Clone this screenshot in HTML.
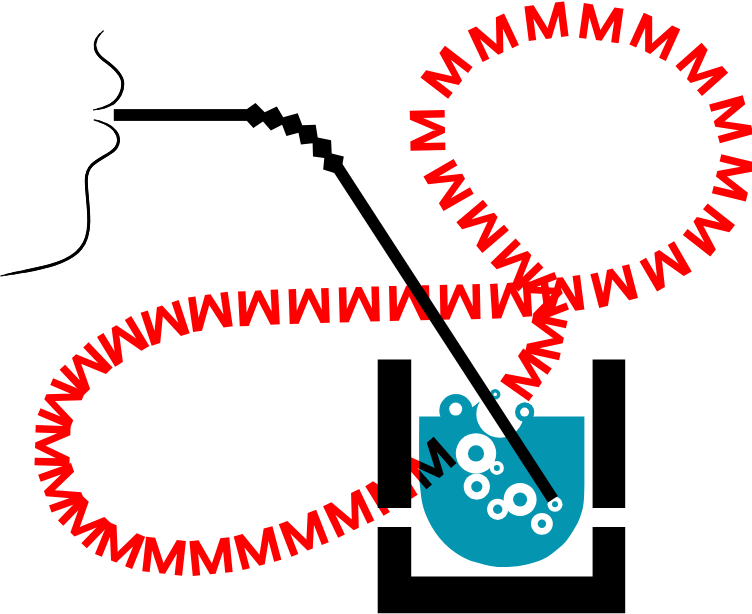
<!DOCTYPE html>
<html lang="en">
<head>
<meta charset="utf-8">
<title>Humming through a straw into water</title>
<style>
html,body{margin:0;padding:0;background:#fff;}
body{width:752px;height:614px;overflow:hidden;}
svg{display:block;}
.hum{font-family:"Liberation Sans",sans-serif;fill:#ff0000;stroke:#ff0000;stroke-width:2.4px;stroke-linejoin:miter;mix-blend-mode:multiply;}
</style>
</head>
<body>
<svg width="752" height="614" viewBox="0 0 752 614">
<rect width="752" height="614" fill="#fff"/>
<g fill="none" stroke="#000" stroke-linecap="round">
<path d="M103.2,31 C97,36 94,42 95.3,48 C96.5,54 100,57 104,60 C114,67 123,75 122.8,84 C122.6,92 119,98 114,102.5 C108,107 100,109 93.6,109.8" pathLength="100" stroke-width="1.3"/>
<path d="M103.2,31 C97,36 94,42 95.3,48 C96.5,54 100,57 104,60 C114,67 123,75 122.8,84 C122.6,92 119,98 114,102.5 C108,107 100,109 93.6,109.8" pathLength="100" stroke-width="1.9" stroke-dasharray="92 200" stroke-dashoffset="-4"/>
<path d="M103.2,31 C97,36 94,42 95.3,48 C96.5,54 100,57 104,60 C114,67 123,75 122.8,84 C122.6,92 119,98 114,102.5 C108,107 100,109 93.6,109.8" pathLength="100" stroke-width="2.5" stroke-dasharray="80 200" stroke-dashoffset="-10"/>
<path d="M103.2,31 C97,36 94,42 95.3,48 C96.5,54 100,57 104,60 C114,67 123,75 122.8,84 C122.6,92 119,98 114,102.5 C108,107 100,109 93.6,109.8" pathLength="100" stroke-width="3" stroke-dasharray="64 200" stroke-dashoffset="-18"/>
<path d="M94.3,120 C101,121.5 107,124 111,127 C116,131 119,136 118.5,141 C118,146 115,150 110,153 C103,157.5 96,161 92,165 C87,170 86,175 86.3,182 C86.7,195 89,208 88.8,222 C88.5,234 86,242 81,248 C75,256 67,260 55,264 C40,269 20,272 1,275.8" pathLength="100" stroke-width="1.3"/>
<path d="M94.3,120 C101,121.5 107,124 111,127 C116,131 119,136 118.5,141 C118,146 115,150 110,153 C103,157.5 96,161 92,165 C87,170 86,175 86.3,182 C86.7,195 89,208 88.8,222 C88.5,234 86,242 81,248 C75,256 67,260 55,264 C40,269 20,272 1,275.8" pathLength="100" stroke-width="1.9" stroke-dasharray="96 200" stroke-dashoffset="-2"/>
<path d="M94.3,120 C101,121.5 107,124 111,127 C116,131 119,136 118.5,141 C118,146 115,150 110,153 C103,157.5 96,161 92,165 C87,170 86,175 86.3,182 C86.7,195 89,208 88.8,222 C88.5,234 86,242 81,248 C75,256 67,260 55,264 C40,269 20,272 1,275.8" pathLength="100" stroke-width="2.5" stroke-dasharray="90 200" stroke-dashoffset="-5"/>
<path d="M94.3,120 C101,121.5 107,124 111,127 C116,131 119,136 118.5,141 C118,146 115,150 110,153 C103,157.5 96,161 92,165 C87,170 86,175 86.3,182 C86.7,195 89,208 88.8,222 C88.5,234 86,242 81,248 C75,256 67,260 55,264 C40,269 20,272 1,275.8" pathLength="100" stroke-width="3" stroke-dasharray="80 200" stroke-dashoffset="-10"/>
</g>
<g fill="#000">
<rect x="377.7" y="359.5" width="33.5" height="148.5"/>
<rect x="592.6" y="359.5" width="32.6" height="148.5"/>
<path d="M377.7,527 H411.2 V576.5 H592.6 V527 H625.2 V613.3 H377.7 Z"/>
</g>
<g fill="#0496b1">
<path d="M584.4,416.4 C584.4,425.3 584.4,457.7 584.4,470.0 C584.4,482.3 584.5,484.0 584.3,490.0 C584.1,496.0 584.0,501.1 583.2,505.8 C582.4,510.5 581.1,514.5 579.6,518.4 C578.1,522.3 576.3,525.5 574.2,529.1 C572.1,532.7 569.7,536.6 567.0,539.9 C564.3,543.2 561.4,546.0 558.1,548.8 C554.8,551.6 551.2,554.6 547.3,556.9 C543.4,559.1 539.3,560.8 534.8,562.3 C530.3,563.8 525.6,565.0 520.5,565.8 C515.4,566.6 509.1,567.0 504.3,567.1 C499.6,567.2 495.7,566.7 492.0,566.2 C488.3,565.7 486.1,565.2 482.0,564.1 C477.9,563.0 472.2,561.6 467.7,559.6 C463.2,557.6 459.1,555.1 455.2,552.4 C451.3,549.7 447.7,546.8 444.4,543.5 C441.1,540.2 438.2,536.6 435.5,532.7 C432.8,528.8 430.4,524.7 428.3,520.2 C426.2,515.7 424.2,511.2 422.9,505.8 C421.5,500.4 420.8,493.9 420.2,487.9 C419.6,481.9 419.4,481.9 419.2,470.0 C419.0,458.1 419.2,425.3 419.2,416.4 Z"/>
<circle cx="456" cy="410.7" r="16.7"/>
<circle cx="495.2" cy="394.4" r="5.2"/>
<circle cx="524.6" cy="412.1" r="9.6"/>
</g>
<path d="M464,417 L470.5,408.6 Q475,405.6 479.6,401.6 L484,417 Z" fill="#0496b1"/>
<circle cx="500" cy="414" r="23.7" fill="#fff"/>
<circle cx="495.2" cy="394.4" r="5.2" fill="#0496b1"/>
<circle cx="524.6" cy="412.1" r="9.6" fill="#0496b1"/>
<circle cx="455.7" cy="409.1" r="6.5" fill="#fff"/>
<circle cx="495.2" cy="394.4" r="1.8" fill="#fff"/>
<circle cx="524.6" cy="412.1" r="4.5" fill="#fff"/>
<circle cx="476" cy="453.4" r="20.2" fill="#fff"/>
<circle cx="476" cy="453.4" r="8.1" fill="#0496b1"/>
<circle cx="496.9" cy="467.9" r="7" fill="#fff"/>
<circle cx="496.9" cy="467.9" r="3" fill="#0496b1"/>
<circle cx="476.8" cy="486.6" r="13.1" fill="#fff"/>
<circle cx="476.8" cy="486.6" r="5.6" fill="#0496b1"/>
<circle cx="520.1" cy="499.5" r="16.5" fill="#fff"/>
<circle cx="520.1" cy="499.5" r="7" fill="#0496b1"/>
<circle cx="497.7" cy="509.3" r="10.6" fill="#fff"/>
<circle cx="497.7" cy="509.3" r="4.7" fill="#0496b1"/>
<circle cx="555" cy="504.2" r="7.5" fill="#fff"/>
<circle cx="555" cy="504.2" r="3" fill="#0496b1"/>
<circle cx="541.9" cy="523.8" r="10.9" fill="#fff"/>
<circle cx="541.9" cy="523.8" r="4.2" fill="#0496b1"/>
<defs><path id="hum" d="M527.2,404.2 C529.0,401.5 534.4,393.6 538.0,388.2 C541.6,382.8 545.6,377.5 549.0,372.0 C552.4,366.5 556.1,360.3 558.5,355.0 C560.9,349.7 562.3,345.0 563.5,340.0 C564.7,335.0 565.2,330.0 565.5,325.0 C565.8,320.0 565.7,315.0 565.3,310.0 C564.9,305.0 564.4,299.8 563.0,295.0 C561.6,290.2 560.0,285.7 557.0,281.0 C554.0,276.3 550.0,272.1 545.0,267.0 C540.0,261.9 535.5,259.5 527.0,250.5 C518.5,241.5 504.7,225.6 494.0,213.0 C483.3,200.4 471.2,189.2 463.0,175.0 C454.8,160.8 445.3,143.5 445.0,128.0 C444.7,112.5 451.9,94.3 461.0,82.0 C470.1,69.7 484.9,61.3 499.6,54.0 C514.3,46.7 532.9,40.7 549.0,38.4 C565.1,36.1 580.2,37.9 596.0,40.0 C611.8,42.1 628.8,44.8 643.6,51.0 C658.4,57.2 673.4,65.3 685.0,77.0 C696.6,88.7 708.2,105.2 713.5,121.0 C718.8,136.8 720.2,155.5 717.0,172.0 C713.8,188.5 704.8,206.6 694.5,220.0 C684.2,233.4 669.3,244.2 655.0,252.5 C640.7,260.8 624.3,265.3 608.5,269.5 C592.7,273.7 578.1,275.2 560.0,277.5 C541.9,279.8 526.7,281.9 500.0,283.3 C473.3,284.7 431.7,284.9 400.0,285.8 C368.3,286.7 335.7,287.6 310.0,288.5 C284.3,289.4 264.4,289.9 245.9,291.1 C227.5,292.4 213.8,293.4 199.4,295.9 C185.0,298.5 171.8,302.4 159.6,306.4 C147.4,310.4 136.8,314.5 126.3,319.8 C115.8,325.1 106.1,331.2 96.5,338.2 C86.9,345.2 76.2,353.6 68.5,361.7 C60.9,369.8 55.2,378.7 50.5,386.7 C45.9,394.7 43.1,401.5 40.6,409.8 C38.2,418.1 36.5,427.6 35.7,436.5 C34.9,445.3 34.6,454.8 35.7,463.1 C36.8,471.4 39.5,478.2 42.3,486.2 C45.1,494.1 47.9,503.5 52.3,510.9 C56.7,518.4 63.3,525.0 68.8,530.8 C74.3,536.6 80.0,541.7 85.2,545.8 C90.4,549.9 92.6,551.9 100.0,555.6 C107.4,559.2 120.4,564.7 129.8,567.6 C139.2,570.4 146.9,571.5 156.3,572.8 C165.7,574.1 176.2,575.1 186.2,575.2 C196.2,575.3 207.1,574.5 216.1,573.6 C225.1,572.7 232.4,571.2 240.0,569.8 C247.7,568.3 254.4,566.9 262.1,564.9 C269.8,562.9 278.1,560.5 286.1,557.9 C294.1,555.3 302.3,552.4 310.2,549.4 C318.0,546.4 325.7,543.3 333.2,540.0 C340.7,536.7 347.9,533.1 355.3,529.6 C362.6,526.0 369.1,523.3 377.2,518.9 C385.4,514.5 395.4,508.8 404.2,503.3 C413.0,497.7 421.3,492.3 430.0,485.6 C438.7,478.9 448.7,469.8 456.2,463.0 C463.7,456.2 471.9,448.0 475.0,445.0"/></defs>
<text class="hum" font-size="47.2" letter-spacing="3.4" dy="-1.2" dx="0 0 0 0 0 0 0 0 0 0 0 0 0 0 0 0 0 0 0 0 0 0 0 0 0 0 -0.466168 -0.466168 -0.466168 -0.466168 -0.466168 -0.466168 -0.466168 -0.466168 0 0 0 0 0 0 0"><textPath href="#hum" textLength="2062.0" lengthAdjust="spacingAndGlyphs">MMMMMMMMMMMMMMMMMMMMMMMMMMMMMMMMMMMMMMMMM</textPath></text>
<g fill="#000" stroke="none">
<rect x="113.8" y="109.1" width="135" height="11.8"/>
<polygon points="247.0,109.1 255.5,103.0 264.7,112.3 276.8,106.4 283.2,117.2 297.7,113.2 302.3,125.3 315.7,124.7 317.7,137.4 331.1,140.2 331.7,153.4 343.8,156.6 342.3,165.1 334.3,173.0 323.2,169.4 324.3,158.1 313.0,156.6 312.6,143.2 300.9,144.5 298.5,132.8 286.4,136.0 282.1,124.7 270.9,130.6 263.0,121.5 253.4,127.9 247.0,120.9"/>
<line x1="335.9" y1="164.8" x2="552.9" y2="499.2" stroke="#000" stroke-width="11.7"/>
</g>
</svg>
</body>
</html>
